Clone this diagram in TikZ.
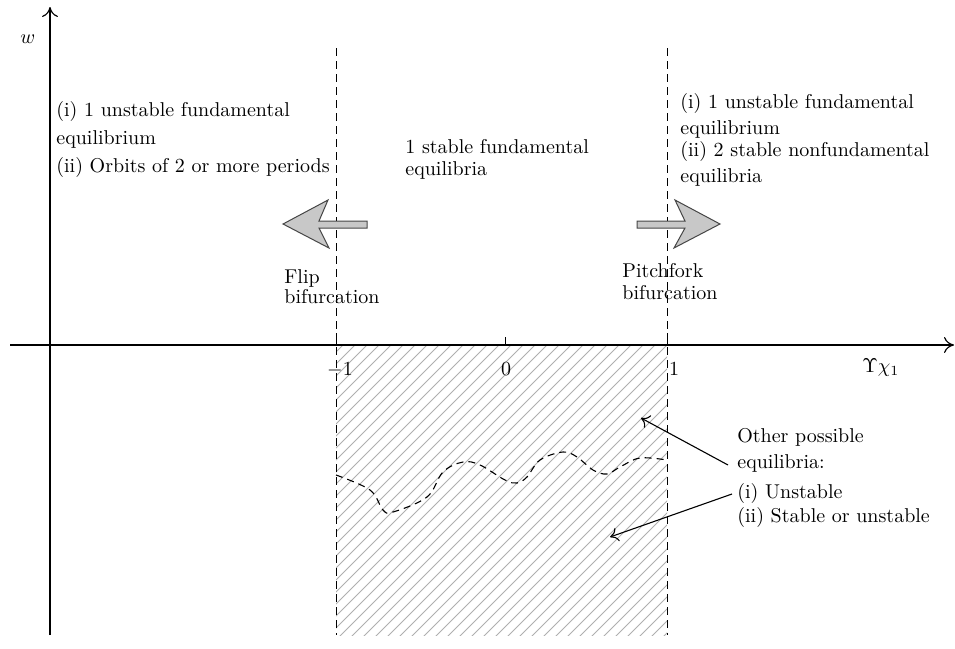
\documentclass[tikz,border=0pt]{standalone}
\usetikzlibrary{arrows.meta}
\definecolor{hatchgray}{RGB}{175,175,175}
\definecolor{arrowfill}{RGB}{200,200,200}
\definecolor{arrowline}{RGB}{70,70,70}
\tikzset{
  axis/.style={line width=0.6pt, -{To[length=5pt,width=8pt]}},
  sepline/.style={line width=0.5pt, dash pattern=on 4pt off 2.5pt},
  hatch/.style={line width=0.45pt, hatchgray},
  wave/.style={line width=0.55pt, dash pattern=on 3.5pt off 2.5pt},
  txt/.style={font=\fontsize{10}{13}\selectfont, align=left, inner sep=0pt, anchor=north west},
  callout/.style={line width=0.55pt, -{To[length=4pt,width=7pt]}},
  bigarrow/.style={fill=arrowfill, draw=arrowline, line width=0.5pt, line join=miter},
}
\begin{document}
\begin{tikzpicture}[x=0.5pt,y=-0.5pt]
\useasboundingbox (0,0) rectangle (955,649);
% hatched region
\begin{scope}
  \clip (336,345) rectangle (667,635);
  \foreach \i in {-300,-288,...,340} {
    \draw[hatch] (336+\i,640) -- ++(300,-300);
  }
\end{scope}
% axes
\coordinate (yb) at (50,635);
\coordinate (yt) at (50,7);
\coordinate (xl) at (10,345);
\coordinate (xr) at (954,345);
\draw[axis] (yb) -- (yt);
\draw[axis] (xl) -- (xr);
% dashed separators
\coordinate (lt) at (336,48);
\coordinate (lb) at (336,635);
\coordinate (rt) at (667,48);
\coordinate (rb) at (667,635);
\draw[sepline] (lt) -- (lb);
\draw[sepline] (rt) -- (rb);
% ticks
\coordinate (z0) at (505,345);
\coordinate (z1) at (505,337);
\draw[line width=0.5pt] (z0) -- (z1);
\draw[line width=0.5pt] (336,333) -- (336,345);
\draw[line width=0.5pt] (667,333) -- (667,345);
% tick labels
\node[font=\fontsize{10}{12}\selectfont, anchor=base, inner sep=0pt] (m1) at (340,375) {$-1$};
\node[font=\fontsize{10}{12}\selectfont, anchor=base, inner sep=0pt] (n0) at (506,375) {$0$};
\node[font=\fontsize{10}{12}\selectfont, anchor=base, inner sep=0pt] (p1) at (674,375) {$1$};
\node[font=\fontsize{10}{12}\selectfont, anchor=base west, inner sep=0pt] (xlab) at (862,372) {$\Upsilon\chi_1$};
\node[font=\fontsize{10}{12}\selectfont, anchor=base west, inner sep=0pt] (ylab) at (20,43) {$w$};
% region texts
\node[txt] (left) at (56,101) {(i) 1 unstable fundamental\\[1pt]equilibrium\\[1pt](ii) Orbits of 2 or more periods};
\node[txt] (mid) at (405,139) {1 stable fundamental\\[-2pt]equilibria};
\node[txt] (right) at (680,93) {(i) 1 unstable fundamental\\[0pt]equilibrium\\[-2pt](ii) 2 stable nonfundamental\\[0pt]equilibria};
\node[txt] (flip) at (284,269) {Flip\\[-3pt]bifurcation};
\node[txt] (pitch) at (622,263) {Pitchfork\\[-2pt]bifurcation};
\node[txt] (other) at (737,428) {Other possible\\[0pt]equilibria:\\[2pt](i) Unstable\\[-1pt](ii) Stable or unstable};
% big arrows
\draw[bigarrow] (283,224) -- (328,200) -- (319,221) -- (367,221) -- (367,228) -- (319,228) -- (329,248) -- cycle;
\draw[bigarrow] (720,224) -- (675,200) -- (685,221) -- (637,221) -- (637,228) -- (685,228) -- (674,248) -- cycle;
% wave
\draw[wave] plot[smooth, tension=0.6] coordinates {(336,475) (370,490) (383,510) (393,512) (427,497) (443,472) (463,462) (480,465) (505,480) (517,483) (527,477) (540,460) (563,452) (577,457) (593,470) (607,474) (620,467) (640,458) (667,460)};
% callouts
\coordinate (c1s) at (728,465);
\coordinate (c1e) at (641,418);
\coordinate (c2s) at (732,494);
\coordinate (c2e) at (610,537);
\draw[callout] (c1s) -- (c1e);
\draw[callout] (c2s) -- (c2e);
\end{tikzpicture}
\end{document}
